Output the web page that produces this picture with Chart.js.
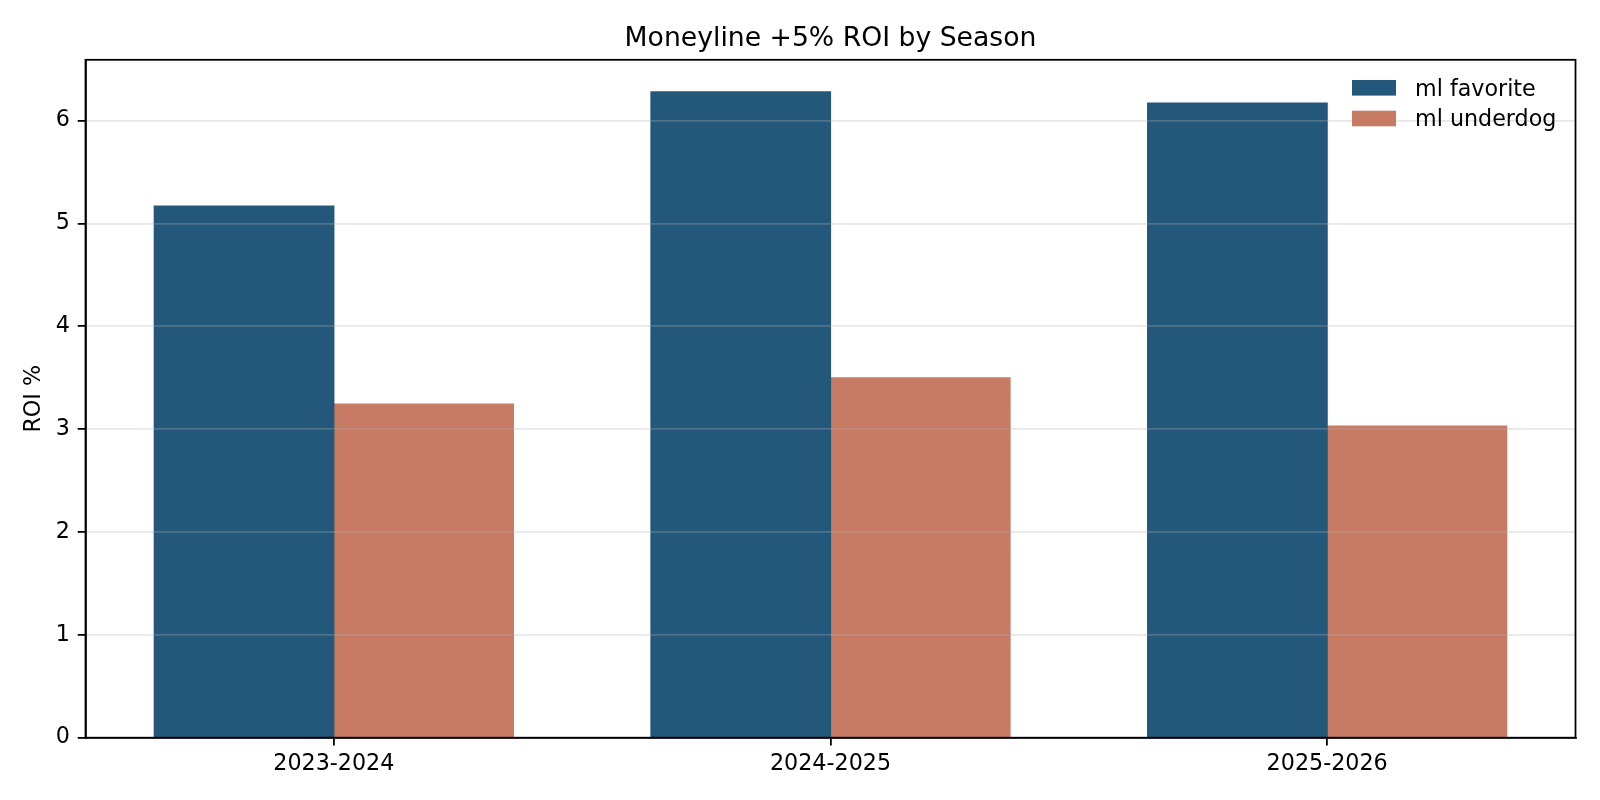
<!DOCTYPE html>
<html>
<head>
<meta charset="utf-8">
<title>Moneyline +5% ROI by Season</title>
<script src="https://cdn.jsdelivr.net/npm/chart.js@4/dist/chart.umd.min.js"></script>
<style>
  html, body { margin: 0; padding: 0; background: #fff; }
  #wrap { position: relative; width: 1600px; height: 800px; }
</style>
</head>
<body>
<div id="wrap"><canvas id="roi"></canvas></div>
<script>
  /* data */
  var seasons = ["2023-2024", "2024-2025", "2025-2026"];
  var mlFavorite = [5.17, 6.28, 6.17];
  var mlUnderdog = [3.245, 3.50, 3.03];
  var yTicks = [0, 1, 2, 3, 4, 5, 6];
  var yMax = 6.592;

  var FONT = "'DejaVu Sans', sans-serif";
  var PT = 160 / 72;           // matplotlib points -> px
  var LW = 0.8 * PT;

  // full black box round the plot, like mpl spines
  var frame = {
    id: "frame",
    afterDraw: function (chart) {
      var a = chart.chartArea, ctx = chart.ctx;
      ctx.save();
      ctx.strokeStyle = "#000";
      ctx.lineWidth = LW;
      ctx.strokeRect(a.left, a.top, a.right - a.left, a.bottom - a.top);
      ctx.restore();
    }
  };

  // legend in the upper right corner, inside the axes
  var cornerLegend = {
    id: "cornerLegend",
    afterDraw: function (chart) {
      var ctx = chart.ctx;
      var x0 = 1352, y0 = 80, row = 30.7;
      ctx.save();
      ctx.font = (10 * PT) + "px " + FONT;
      ctx.textBaseline = "alphabetic";
      chart.data.datasets.forEach(function (ds, i) {
        var y = y0 + i * row;
        ctx.fillStyle = ds.backgroundColor;
        ctx.fillRect(x0, y, 44, 15.6);
        ctx.fillStyle = "#000";
        ctx.fillText(ds.label, x0 + 63, y + 15.7);
      });
      ctx.restore();
    }
  };

  new Chart(document.getElementById("roi"), {
    type: "bar",
    data: {
      labels: seasons,
      datasets: [
        { label: "ml favorite", data: mlFavorite, backgroundColor: "#23587a" },
        { label: "ml underdog", data: mlUnderdog, backgroundColor: "#c87b64" }
      ]
    },
    options: {
      responsive: true,
      maintainAspectRatio: false,
      animation: false,
      devicePixelRatio: 1,
      layout: { padding: { left: 0, right: 24.5, top: 23.5, bottom: 0 } },
      datasets: { bar: { categoryPercentage: 0.723, barPercentage: 1.0, borderWidth: 0, inflateAmount: 0.6 } },
      plugins: {
        legend: { display: false },
        tooltip: { enabled: false },
        title: {
          display: true,
          text: "Moneyline +5% ROI by Season",
          color: "#000",
          fullSize: false,
          font: { family: FONT, size: 12 * PT, weight: "normal", lineHeight: 1.2 },
          padding: { top: 0, bottom: 4.3 }
        }
      },
      scales: {
        x: {
          offset: true,
          grid: { display: true, drawOnChartArea: false, offset: false, tickColor: "#000", tickLength: 3.5 * PT, tickWidth: LW, lineWidth: LW },
          border: { display: true, color: "#000", width: LW },
          ticks: { color: "#000", padding: 3.5 * PT - 2, font: { family: FONT, size: 10 * PT }, maxRotation: 0 },
          afterFit: function (s) { s.height = 62.3; }
        },
        y: {
          min: 0,
          max: yMax,
          grid: { z: 1, color: "rgba(176,176,176,0.3)", lineWidth: LW, tickColor: "#000", tickLength: 3.5 * PT, tickWidth: LW },
          border: { display: true, color: "#000", width: LW, z: 2 },
          ticks: { color: "#000", padding: 3.5 * PT, font: { family: FONT, size: 10 * PT } },
          afterBuildTicks: function (s) {
            s.ticks = yTicks.map(function (v) { return { value: v }; });
          },
          title: {
            display: true,
            text: "ROI %",
            color: "#000",
            font: { family: FONT, size: 10 * PT, lineHeight: 1.2 },
            padding: { top: 20.7, bottom: 0 }
          },
          afterFit: function (s) { s.width = 85.5; }
        }
      }
    },
    plugins: [frame, cornerLegend]
  });
</script>
</body>
</html>
